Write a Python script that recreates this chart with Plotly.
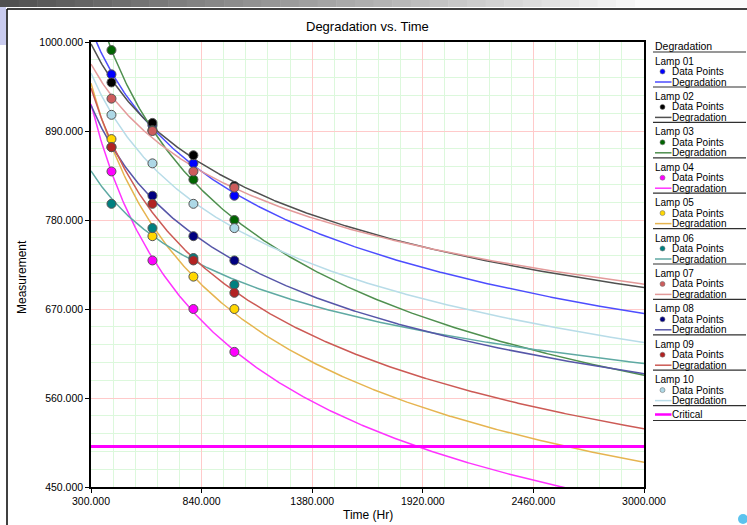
import numpy as np
import plotly.graph_objects as go

# ---------------- data ----------------
times = [400, 600, 800, 1000]
lamp_names = ["Lamp 01", "Lamp 02", "Lamp 03", "Lamp 04", "Lamp 05",
              "Lamp 06", "Lamp 07", "Lamp 08", "Lamp 09", "Lamp 10"]
lamp01 = [960, 897, 850, 810]
lamp02 = [950, 900, 860, 822]
lamp03 = [990, 891, 830, 780]
lamp04 = [840, 730, 670, 617]
lamp05 = [880, 760, 710, 670]
lamp06 = [800, 770, 733, 700]
lamp07 = [930, 890, 840, 820]
lamp08 = [870, 810, 760, 730]
lamp09 = [870, 800, 730, 690]
lamp10 = [910, 850, 800, 770]
lamp_values = [lamp01, lamp02, lamp03, lamp04, lamp05,
               lamp06, lamp07, lamp08, lamp09, lamp10]
critical_value = 500
x_ticks = [300, 840, 1380, 1920, 2460, 3000]
y_ticks = [450, 560, 670, 780, 890, 1000]

# ---------------- styles ----------------
marker_colors = ["#0000ff", "#000000", "#006400", "#ff00ff", "#ffd700",
                 "#008080", "#cd5c5c", "#000080", "#b22222", "#add8e6"]
line_colors = ["#4d4dff", "#505050", "#4f8f4f", "#ff33ff", "#e6b450",
               "#5fa9a3", "#e39a9a", "#5656a8", "#cc5a55", "#b8dce8"]
FONT = "Liberation Sans"

W, H = 747, 525
L, R, T, B = 91, 644, 42, 487

fig = go.Figure()

# fitted degradation curves (power model fitted in log-log space)
t_curve = np.linspace(300, 3000, 400)
for vals, lc in zip(lamp_values, line_colors):
    slope, icpt = np.polyfit(np.log(times), np.log(vals), 1)
    fig.add_trace(go.Scatter(x=t_curve, y=np.exp(icpt) * t_curve ** slope,
                             mode="lines", line=dict(color=lc, width=1.5),
                             showlegend=False, hoverinfo="skip"))

fig.add_trace(go.Scatter(x=[300, 3000], y=[critical_value, critical_value],
                         mode="lines", line=dict(color="#ff00ff", width=3),
                         showlegend=False))

for vals, mc in zip(lamp_values, marker_colors):
    fig.add_trace(go.Scatter(x=times, y=vals, mode="markers",
                             marker=dict(color=mc, size=9,
                                         line=dict(color="#555555", width=1)),
                             showlegend=False))


def px_x(p):
    return (p - L) / (R - L)


def px_y(p):
    return (B - p) / (B - T)


shapes = []
annotations = []

# decorative header bar
n = 40
for i in range(n):
    x0 = i * W / n
    x1 = (i + 1) * W / n
    f = i / (n - 1)
    c = int(80 + (250 - 80) * min(1.0, f * 1.15))
    shapes.append(dict(type="rect", xref="paper", yref="paper",
                       x0=px_x(x0), x1=px_x(x1 + 0.5), y0=px_y(7), y1=px_y(0),
                       fillcolor=f"rgb({c},{c},{c})", line=dict(width=0),
                       layer="above"))
shapes.append(dict(type="rect", xref="paper", yref="paper",
                   x0=px_x(0), x1=px_x(6), y0=px_y(45), y1=px_y(7),
                   fillcolor="#c9cbee", line=dict(width=0)))
# outer frame
shapes.append(dict(type="line", xref="paper", yref="paper",
                   x0=px_x(7), x1=px_x(7), y0=px_y(9), y1=px_y(525),
                   line=dict(color="#000000", width=1.5)))
shapes.append(dict(type="line", xref="paper", yref="paper",
                   x0=px_x(7), x1=px_x(747), y0=px_y(9), y1=px_y(9),
                   line=dict(color="#000000", width=1.5)))
shapes.append(dict(type="circle", xref="paper", yref="paper",
                   x0=px_x(738), x1=px_x(748), y0=px_y(524), y1=px_y(514),
                   fillcolor="#5cc3ee", line=dict(width=0)))

# manual legend
def ltext(txt, x, y, size=10):
    annotations.append(dict(text=txt, xref="paper", yref="paper",
                            x=px_x(x), y=px_y(y), xanchor="left",
                            yanchor="middle", showarrow=False, borderpad=0,
                            font=dict(family=FONT, size=size, color="#000000")))


def uline(y):
    shapes.append(dict(type="line", xref="paper", yref="paper",
                       x0=px_x(653), x1=px_x(746), y0=px_y(y), y1=px_y(y),
                       line=dict(color="#303030", width=1.2)))


ltext("Degradation", 653.5, 45.5, 10.5)
uline(52)
for i, name in enumerate(lamp_names):
    base = 61 + i * 35.4
    ltext(name, 653.5, base)
    shapes.append(dict(type="circle", xref="paper", yref="paper",
                       xsizemode="pixel", ysizemode="pixel",
                       xanchor=px_x(662.5), yanchor=px_y(base + 10.5),
                       x0=-2.5, x1=2.5, y0=-2.5, y1=2.5,
                       fillcolor=marker_colors[i],
                       line=dict(color="#777777", width=0.6)))
    ltext("Data Points", 670.5, base + 10.5)
    shapes.append(dict(type="line", xref="paper", yref="paper",
                       x0=px_x(655), x1=px_x(671.5), y0=px_y(base + 21),
                       y1=px_y(base + 21),
                       line=dict(color=line_colors[i], width=1.5)))
    ltext("Degradation", 671, base + 21)
    uline(base + 26)
shapes.append(dict(type="line", xref="paper", yref="paper",
                   x0=px_x(655), x1=px_x(671.5), y0=px_y(414.5), y1=px_y(414.5),
                   line=dict(color="#ff00ff", width=2.5)))
ltext("Critical", 671, 414.5)
uline(420.5)

# title and axis titles
annotations.append(dict(text="Degradation vs. Time", xref="paper", yref="paper",
                        x=px_x(367.5), y=px_y(27), xanchor="center",
                        yanchor="middle", showarrow=False,
                        font=dict(family=FONT, size=13, color="#000000")))
annotations.append(dict(text="Time (Hr)", xref="paper", yref="paper",
                        x=px_x(368), y=px_y(515), xanchor="center",
                        yanchor="middle", showarrow=False,
                        font=dict(family=FONT, size=12, color="#000000")))
annotations.append(dict(text="Measurement", xref="paper", yref="paper",
                        x=px_x(22), y=px_y(277), xanchor="center",
                        yanchor="middle", showarrow=False, textangle=-90,
                        font=dict(family=FONT, size=12, color="#000000")))

fig.update_layout(
    width=W, height=H,
    margin=dict(l=L, r=W - R, t=T, b=H - B, pad=0),
    paper_bgcolor="#ffffff", plot_bgcolor="#ffffff",
    showlegend=False,
    shapes=shapes, annotations=annotations,
    font=dict(family=FONT, size=10.5, color="#000000"),
)
fig.update_xaxes(range=[300, 3000], tickvals=x_ticks,
                 ticktext=[f"{v:.3f}" for v in x_ticks],
                 showgrid=True, gridcolor="#ffcaca", gridwidth=1,
                 minor=dict(tick0=300, dtick=108, showgrid=True,
                            gridcolor="#dcf8dc", gridwidth=1),
                 showline=True, linecolor="#000000", linewidth=1.5, mirror=True,
                 ticks="outside", ticklen=4, tickcolor="#000000",
                 zeroline=False, tickfont=dict(size=10.5))
fig.update_yaxes(range=[450, 1000], tickvals=y_ticks,
                 ticktext=[f"{v:.3f}" for v in y_ticks],
                 showgrid=True, gridcolor="#ffcaca", gridwidth=1,
                 minor=dict(tick0=450, dtick=22, showgrid=True,
                            gridcolor="#dcf8dc", gridwidth=1),
                 showline=True, linecolor="#000000", linewidth=1.5, mirror=True,
                 ticks="outside", ticklen=4, tickcolor="#000000",
                 zeroline=False, tickfont=dict(size=10.5))

fig.write_html("out.html",
               config={"displayModeBar": False},
               post_script="document.body.style.margin='0';"
                           "document.body.style.overflow='hidden';")
